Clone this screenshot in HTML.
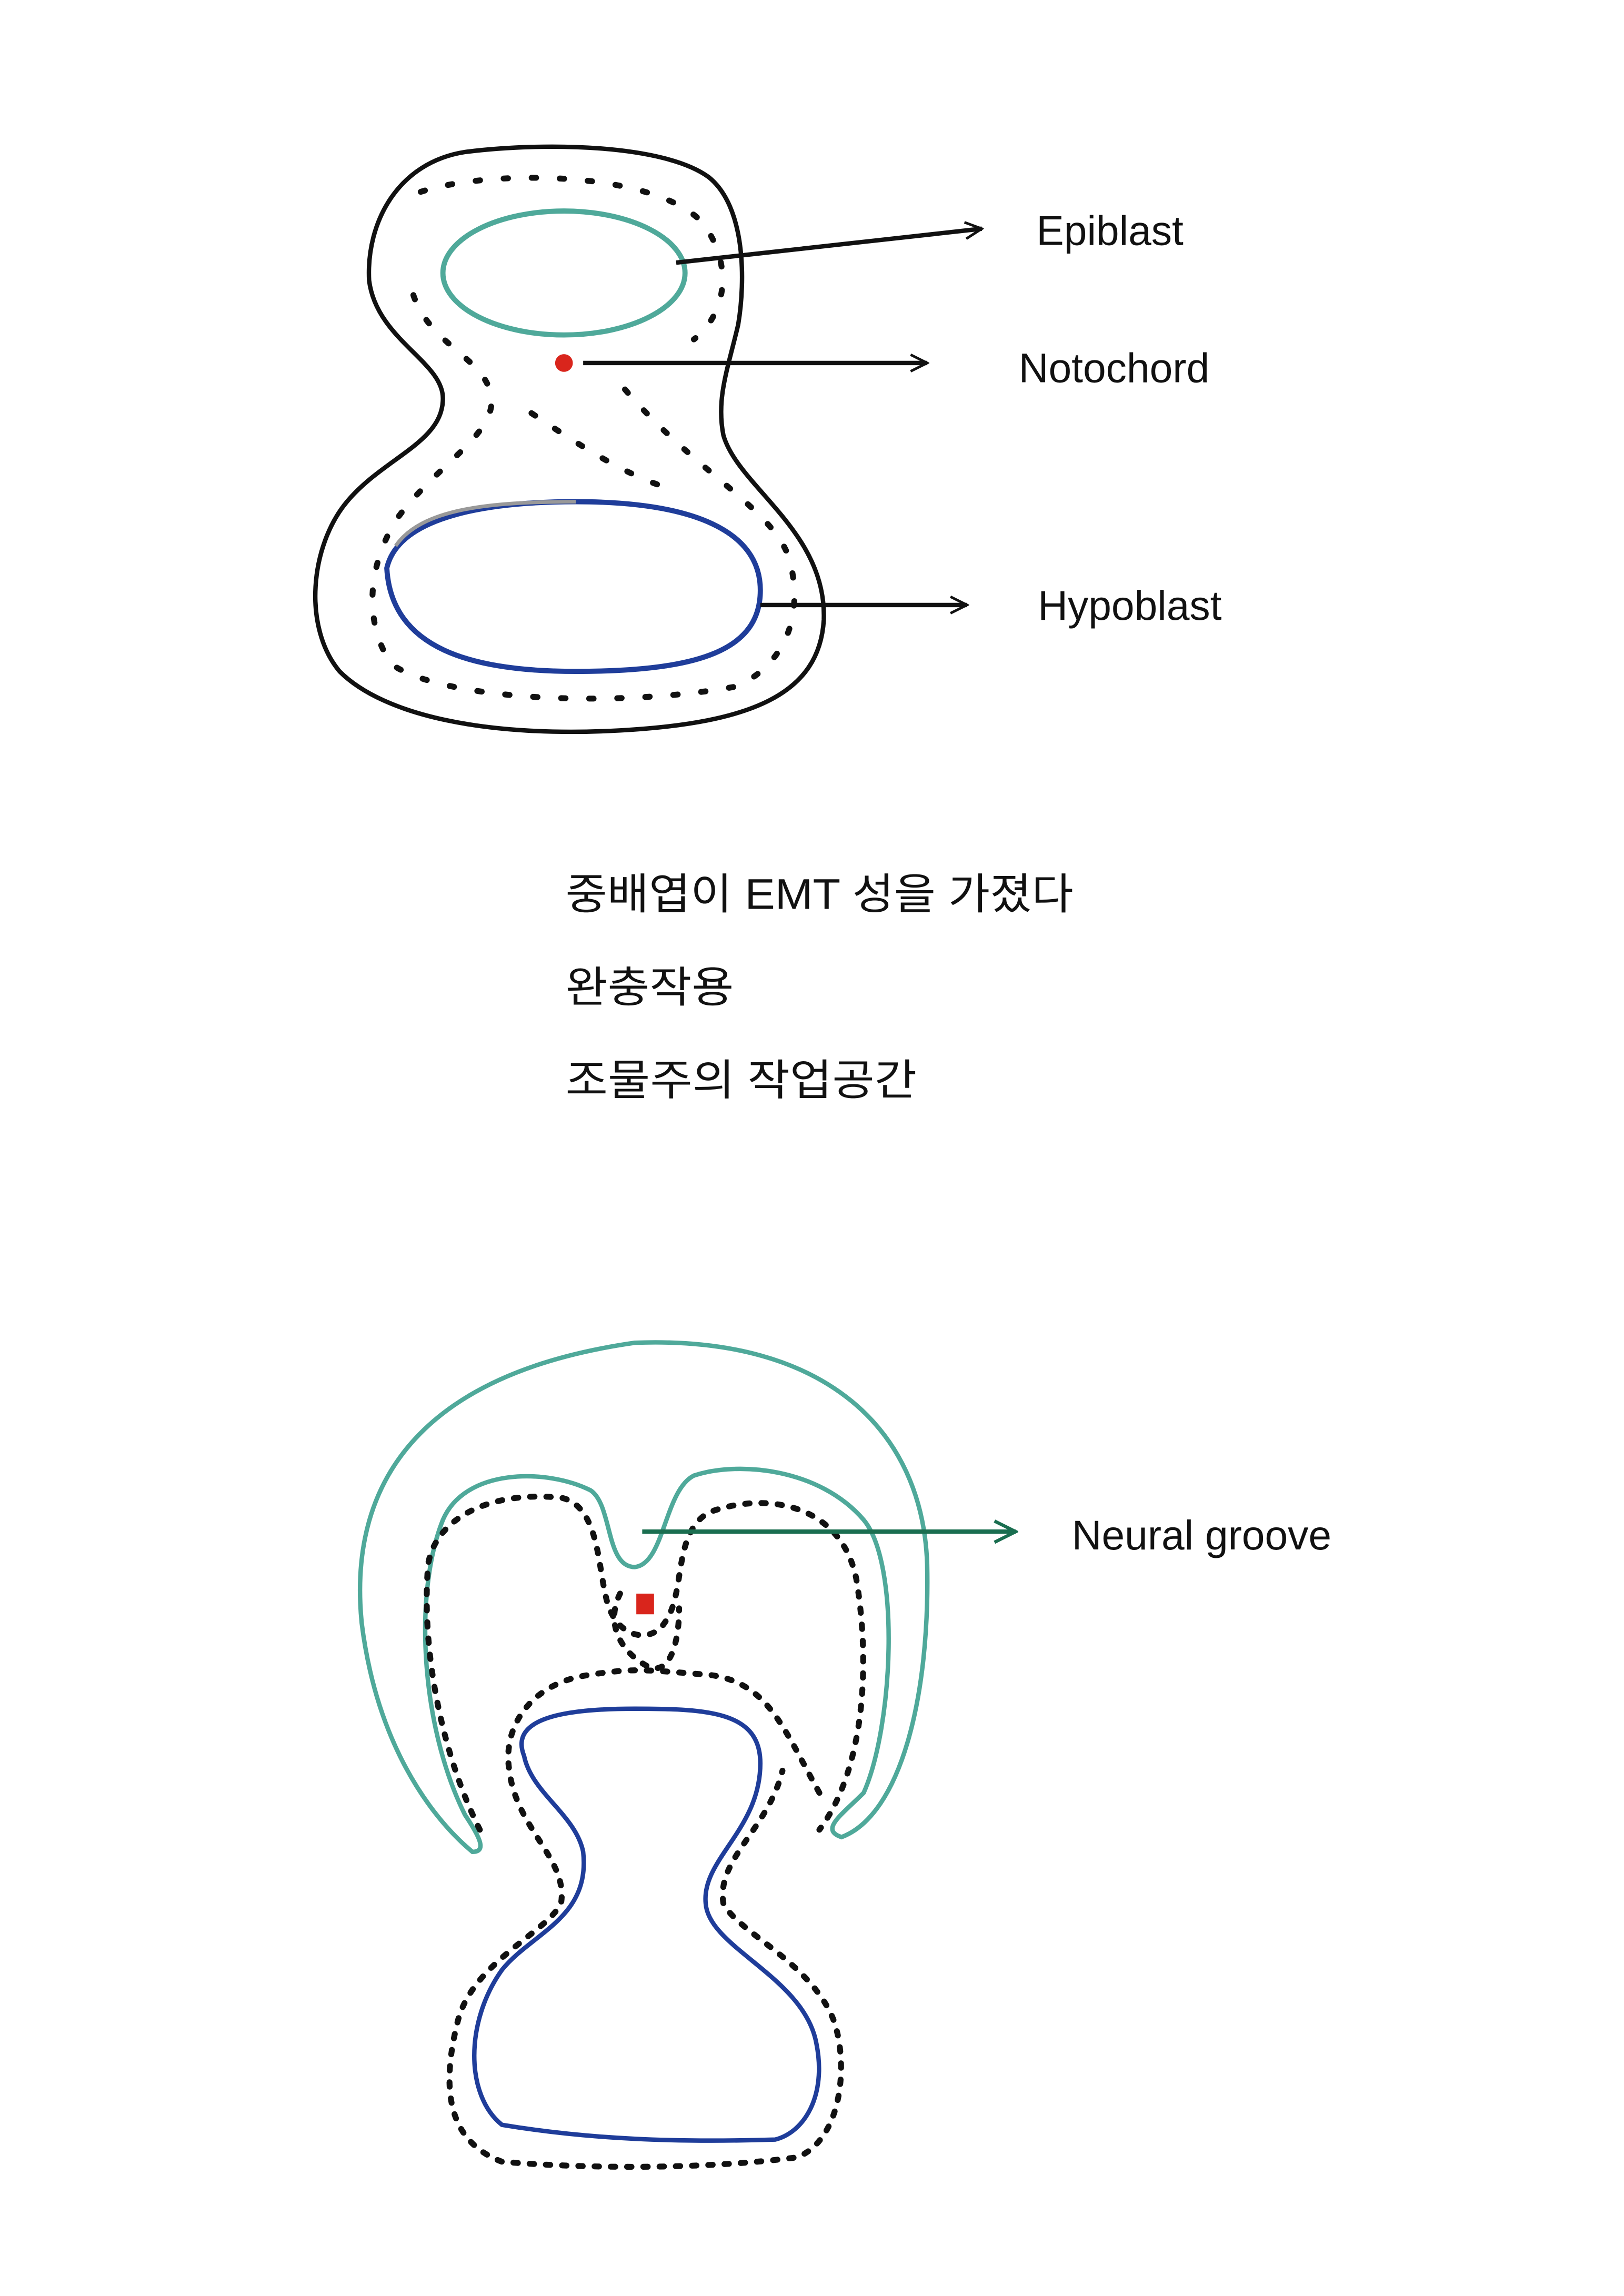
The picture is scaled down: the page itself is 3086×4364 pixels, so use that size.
<!DOCTYPE html>
<html><head><meta charset="utf-8"><style>
html,body{margin:0;padding:0;background:#fff;}
svg{display:block;}
text{font-family:"Liberation Sans","Noto Sans CJK KR",sans-serif;fill:#111;}
</style></head><body>
<svg width="3086" height="4364" viewBox="0 0 1100 1556" preserveAspectRatio="none" xmlns="http://www.w3.org/2000/svg">
<defs>
<marker id="ah" viewBox="0 0 20 20" refX="18" refY="10" markerWidth="14" markerHeight="14" markerUnits="userSpaceOnUse" orient="auto">
<path d="M2,2 L18,10 L2,18" fill="none" stroke="#111" stroke-width="2.5"/></marker>
<marker id="ahg" viewBox="0 0 20 20" refX="18" refY="10" markerWidth="18" markerHeight="18" markerUnits="userSpaceOnUse" orient="auto">
<path d="M2,2 L18,10 L2,18" fill="none" stroke="#1a6e50" stroke-width="2.5"/></marker>
</defs>
<!-- top figure -->
<path d="M315,103 C370,96 450,98 480,120 C505,140 505,190 500,220 C493,250 485,270 490,295 C500,330 560,360 558,420 C555,470 510,490 420,495 C330,500 260,485 230,455 C205,425 210,370 235,340 C260,310 300,300 300,270 C300,245 255,230 250,190 C248,150 270,110 315,103 Z" fill="none" stroke="#111" stroke-width="3"/>
<ellipse cx="382" cy="185" rx="82" ry="42" fill="none" stroke="#4fa99a" stroke-width="3.5"/>
<circle cx="382" cy="246" r="6" fill="#d9251c"/>
<path d="M262,385 C270,350 330,340 390,340 C470,340 515,360 515,400 C515,440 475,455 390,455 C320,455 265,440 262,385 Z" fill="none" stroke="#1f3d9a" stroke-width="3.5"/>
<path d="M268,370 C285,345 330,340 390,340" fill="none" stroke="#999" stroke-width="2.5"/>
<g stroke="#111" stroke-width="4" stroke-linecap="round" fill="none" stroke-dasharray="3 16">
<path d="M285,130 C330,115 440,115 475,150 C495,175 495,210 470,230"/>
<path d="M280,200 C290,230 320,240 330,260 C345,290 300,310 270,350 C250,380 245,420 265,450 C300,475 420,480 500,465 C530,450 545,420 535,380 C525,345 470,320 420,260"/>
<path d="M360,280 C390,300 420,320 450,330"/>
</g>
<line x1="458" y1="178" x2="665" y2="155" stroke="#111" stroke-width="3" marker-end="url(#ah)"/>
<line x1="395" y1="246" x2="628" y2="246" stroke="#111" stroke-width="3" marker-end="url(#ah)"/>
<line x1="515" y1="410" x2="655" y2="410" stroke="#111" stroke-width="3" marker-end="url(#ah)"/>
<text x="702" y="166" font-size="28">Epiblast</text>
<text x="690" y="259" font-size="28">Notochord</text>
<text x="703" y="420" font-size="28">Hypoblast</text>
<text x="383" y="616" font-size="29" textLength="344" lengthAdjust="spacingAndGlyphs">중배엽이 EMT 성을 가졌다</text>
<text x="383" y="679" font-size="29" textLength="114" lengthAdjust="spacingAndGlyphs">완충작용</text>
<text x="383" y="742" font-size="29" textLength="238" lengthAdjust="spacingAndGlyphs">조물주의 작업공간</text>
<!-- bottom figure -->
<path d="M320,1255 C290,1230 255,1180 245,1100 C235,1000 290,930 430,910 C560,905 625,970 628,1060 C630,1150 610,1230 570,1245 C555,1240 570,1230 585,1215 C605,1170 610,1060 585,1030 C555,995 500,990 470,1000 C450,1010 450,1060 430,1062 C410,1062 415,1020 400,1010 C370,995 315,995 300,1030 C280,1080 285,1170 315,1230 C325,1245 330,1255 320,1255 Z" fill="none" stroke="#4fa99a" stroke-width="3"/>
<path d="M355,1190 C345,1165 380,1158 430,1158 C480,1158 515,1160 515,1195 C515,1240 475,1260 478,1290 C480,1320 545,1340 553,1385 C560,1420 545,1445 525,1450 C460,1452 400,1450 340,1440 C315,1420 315,1370 340,1335 C360,1310 400,1300 395,1255 C390,1230 360,1215 355,1190 Z" fill="none" stroke="#1f3d9a" stroke-width="3"/>
<g stroke="#111" stroke-width="4" stroke-linecap="round" fill="none" stroke-dasharray="3 8">
<path d="M325,1240 C300,1190 285,1120 290,1060 C295,1030 330,1010 380,1015 C405,1020 405,1060 410,1080 C415,1110 440,1115 450,1100 C465,1080 455,1040 480,1025 C520,1010 570,1020 580,1070 C590,1130 585,1200 555,1240"/>
<path d="M555,1215 C530,1170 520,1140 480,1135 C440,1132 430,1130 400,1135 C360,1140 340,1170 345,1200 C350,1240 385,1260 380,1290 C370,1310 320,1330 310,1370 C300,1410 300,1450 340,1465 C400,1470 480,1470 540,1462 C570,1450 575,1400 565,1370 C550,1330 500,1310 490,1290 C485,1260 520,1240 530,1200"/>
<path d="M420,1080 C410,1100 420,1120 440,1130 C455,1135 460,1110 460,1090"/>
</g>
<rect x="431" y="1080" width="12" height="14" fill="#d9251c"/>
<line x1="435" y1="1038" x2="688" y2="1038" stroke="#1a6e50" stroke-width="3" marker-end="url(#ahg)"/>
<text x="726" y="1050" font-size="28">Neural groove</text>
</svg>
</body></html>
